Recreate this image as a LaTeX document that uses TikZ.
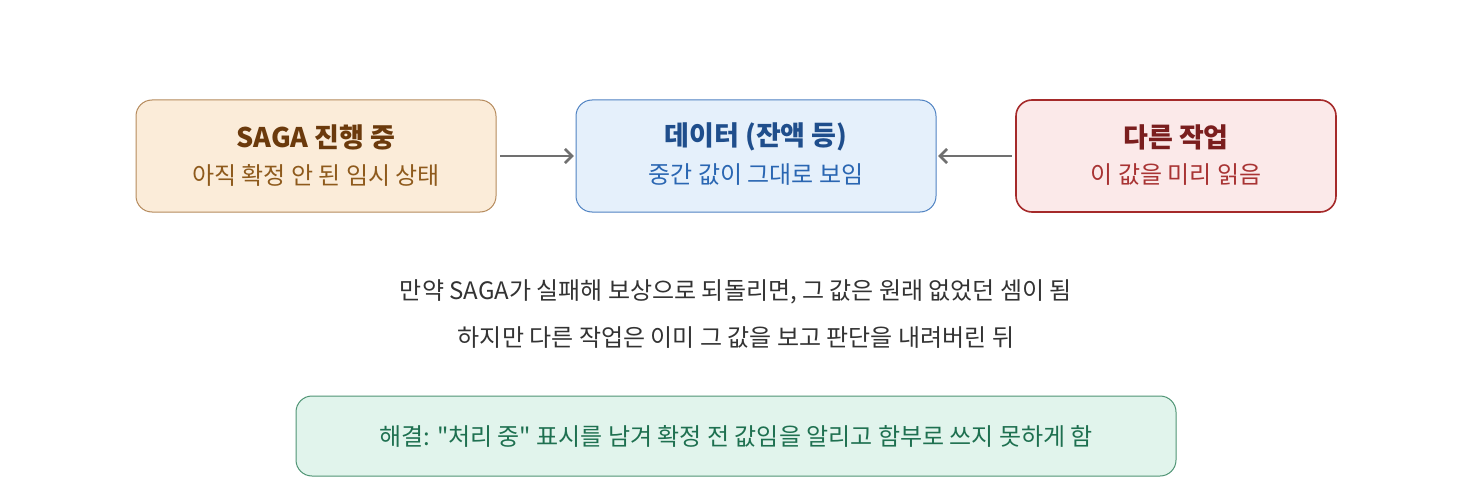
\documentclass[tikz,border=0pt]{standalone}
\usepackage{fontspec}
\setmainfont{Noto Sans CJK KR}[Ligatures=TeXOff]
\usetikzlibrary{arrows.meta}
\definecolor{afill}{HTML}{FBECD9}
\definecolor{adraw}{HTML}{B58A5C}
\definecolor{atitle}{HTML}{6B3A0C}
\definecolor{asub}{HTML}{8E5A1C}
\definecolor{bfill}{HTML}{E5F0FB}
\definecolor{bdraw}{HTML}{4F82C2}
\definecolor{btitle}{HTML}{1F4E8C}
\definecolor{bsub}{HTML}{2A66B2}
\definecolor{cfill}{HTML}{FBE9E9}
\definecolor{cdraw}{HTML}{A52A2A}
\definecolor{ctitle}{HTML}{7A1E1E}
\definecolor{csub}{HTML}{A83333}
\definecolor{gfill}{HTML}{E1F4EC}
\definecolor{gdraw}{HTML}{4F9474}
\definecolor{gtext}{HTML}{1E7050}
\definecolor{mtext}{HTML}{333333}
\definecolor{arr}{HTML}{707070}
\tikzset{
  x=1pt,y=-1pt,
  box/.style={rounded corners=16pt, line width=1pt},
  ttl/.style={font=\fontsize{27}{32}\selectfont\bfseries, anchor=center},
  sub/.style={font=\fontsize{24}{28}\selectfont, anchor=center},
  mid/.style={font=\fontsize{24}{28}\selectfont, text=mtext, anchor=center},
  conn/.style={draw=arr, line width=2.6pt, -{Straight Barb[length=7pt,width=14pt,line width=2.6pt]}},
}
\begin{document}
\begin{tikzpicture}
\useasboundingbox (0,0) rectangle (1472,500);
% boxes
\draw[box, fill=afill, draw=adraw] (136,100) rectangle (496,212);
\node (a) at (316,156) [minimum width=360pt, minimum height=112pt] {};
\node[ttl, text=atitle] (at) at (316,137) {SAGA 진행 중};
\node[sub, text=asub] (as) at (316,175) {아직 확정 안 된 임시 상태};

\draw[box, fill=bfill, draw=bdraw] (576,100) rectangle (936,212);
\node (b) at (756,156) [minimum width=360pt, minimum height=112pt] {};
\node[ttl, text=btitle] (bt) at (756,137) {데이터 (잔액 등)};
\node[sub, text=bsub] (bs) at (756,175) {중간 값이 그대로 보임};

\draw[box, fill=cfill, draw=cdraw, line width=1.6pt] (1016,100) rectangle (1336,212);
\node (c) at (1176,156) [minimum width=320pt, minimum height=112pt] {};
\node[ttl, text=ctitle] (ct) at (1176,137) {다른 작업};
\node[sub, text=csub] (cs) at (1176,175) {이 값을 미리 읽음};

\draw[conn] ([xshift=4pt]a.east) -- ([xshift=-2pt]b.west);
\draw[conn] ([xshift=-4pt]c.west) -- ([xshift=2pt]b.east);

\node[mid] (m1) at (736,292) {만약 SAGA가 실패해 보상으로 되돌리면, 그 값은 원래 없었던 셈이 됨};
\node[mid] (m2) at (736,338) {하지만 다른 작업은 이미 그 값을 보고 판단을 내려버린 뒤};

\draw[box, fill=gfill, draw=gdraw] (296,396) rectangle (1176,476);
\node[mid, text=gtext] (g) at (736,436) {해결: "처리 중" 표시를 남겨 확정 전 값임을 알리고 함부로 쓰지 못하게 함};
\end{tikzpicture}
\end{document}
